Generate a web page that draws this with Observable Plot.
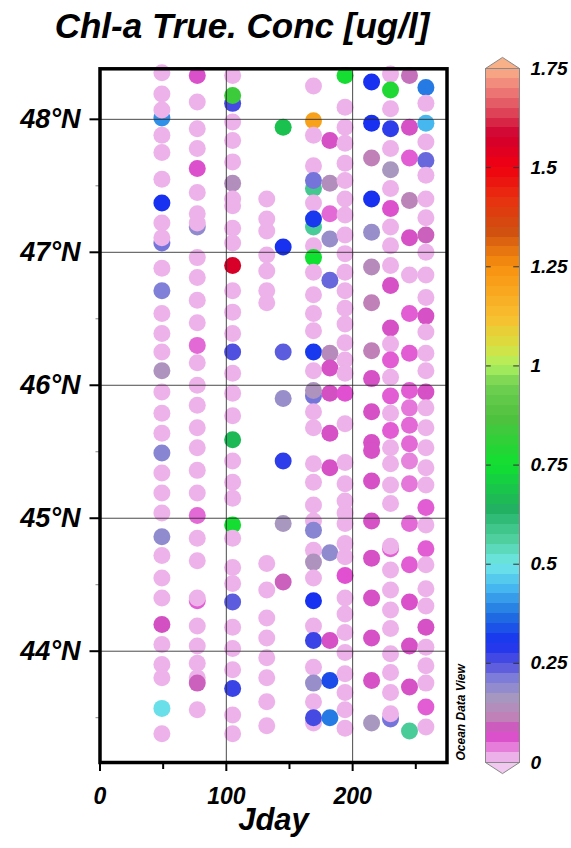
<!DOCTYPE html>
<html><head><meta charset="utf-8">
<script src="https://cdn.jsdelivr.net/npm/d3@7"></script>
<script src="https://cdn.jsdelivr.net/npm/@observablehq/plot@0.6"></script>
<style>
body{margin:0;background:#fff;}
#wrap{position:relative;width:571px;height:848px;overflow:hidden;font-family:"Liberation Sans",Arial,sans-serif;font-weight:bold;font-style:italic;color:#000;}
#title{position:absolute;left:0;top:8px;width:484px;text-align:center;font-size:35px;line-height:35px;white-space:nowrap;}
#main{position:absolute;left:0;top:50px;}
#bar{position:absolute;left:450px;top:50px;}
</style></head><body>
<div id="wrap"><div id="title">Chl-a True. Conc [ug/l]</div><div id="main"></div><div id="bar"></div></div>
<script>
// ---- data: one cruise per column (Jday), latitude (°N) and Chl-a (ug/l) of each station
const cruiseJday = [49, 77, 105, 132, 145, 169, 182, 194, 215, 230, 245, 258];

const lat049 = [48.35,48.19,48.01,48.07,47.88,47.75,47.55,47.37,47.22,47.07,47.11,46.88,46.71,46.54,46.39,46.25,46.11,45.95,45.79,45.64,45.49,45.34,45.19,45.04,44.86,44.72,44.55,44.40,44.20,44.05,43.90,43.80,43.57,43.38];
const chl049 = [.012,.012,.40,.012,.012,.012,.012,.30,.012,.22,.012,.012,.21,.012,.012,.012,.15,.012,.012,.012,.20,.012,.012,.012,.19,.012,.012,.012,.075,.012,.012,.012,.49,.012];

const lat077 = [48.33,48.13,47.93,47.78,47.63,47.45,47.29,47.19,47.22,46.96,46.81,46.64,46.47,46.30,46.17,46.00,45.85,45.68,45.53,45.36,45.19,45.02,44.85,44.68,44.38,44.40,44.19,44.04,43.91,43.80,43.76,43.56];
const chl077 = [.065,.012,.012,.012,.06,.012,.012,.19,.012,.012,.012,.012,.012,.045,.012,.012,.012,.012,.012,.012,.012,.045,.012,.012,.05,.012,.012,.012,.012,.012,.09,.012];

const lat105 = [48.33,48.12,48.18,47.98,47.84,47.68,47.52,47.40,47.35,47.18,47.07,46.90,46.71,46.55,46.39,46.25,46.09,45.94,45.77,45.59,45.43,45.27,45.15,44.95,44.85,44.63,44.51,44.37,44.18,44.02,43.86,43.72,43.52,43.38];
const chl105 = [.012,.26,.83,.012,.012,.012,.14,.012,.012,.012,.012,1.56,.012,.012,.012,.25,.012,.012,.012,.66,.012,.012,.012,.76,.012,.012,.012,.24,.012,.012,.012,.27,.012,.012];

const lat132 = [47.40,47.25,47.16,46.98,46.86,46.71,46.62,44.66,44.46,44.25,44.10,43.95,43.80,43.62,43.44];
const chl132 = [.012,.012,.012,.012,.012,.012,.012,.012,.012,.012,.012,.012,.012,.012,.012];

const lat145 = [47.94,47.04,46.25,45.90,45.43,44.96,44.52];
const chl145 = [.68,.30,.24,.18,.28,.16,.09];

const lat169 = [48.25,47.99,47.88,47.65,47.48,47.54,47.37,47.19,47.25,47.05,46.96,46.85,46.68,46.54,46.41,46.25,46.11,45.92,45.96,45.80,45.68,45.41,45.27,45.10,44.98,44.91,44.76,44.67,44.55,44.38,44.19,44.08,43.88,43.76,43.62,43.46,43.50];
const chl169 = [.012,1.2,.012,.012,.58,.22,.012,.57,.31,.012,.75,.012,.012,.012,.012,.31,.012,.22,.15,.012,.012,.012,.012,.012,.012,.20,.012,.15,.012,.30,.012,.27,.012,.18,.012,.012,.26];

const lat182 = [47.84,47.52,47.29,47.10,46.79,46.24,46.13,45.94,45.64,45.38,44.74,44.08,43.78,43.50];
const chl182 = [.07,.14,.045,.18,.23,.13,.07,.075,.07,.07,.19,.07,.33,.38];

const lat194 = [48.33,48.09,47.94,47.82,47.67,47.54,47.40,47.28,47.13,46.99,46.85,46.71,46.58,46.46,46.32,46.19,46.09,45.94,45.71,45.42,45.26,45.13,45.04,44.96,44.81,44.71,44.57,44.40,44.28,44.14,43.99,43.83,43.69,43.56,43.42];
const chl194 = [.76,.012,.012,.012,.012,.012,.012,.012,.012,.012,.012,.012,.012,.012,.012,.012,.012,.055,.012,.012,.012,.012,.012,.012,.012,.012,.055,.012,.012,.012,.012,.012,.012,.012,.012];

const lat215 = [48.28,47.97,47.71,47.40,47.15,46.89,46.62,46.26,46.05,45.80,45.57,45.51,45.28,44.98,44.70,44.40,44.10,43.78,43.46];
const chl215 = [.30,.30,.11,.30,.18,.13,.11,.11,.07,.07,.07,.07,.07,.07,.07,.07,.07,.07,.16];

const lat230 = [48.34,48.22,48.08,47.93,47.78,47.62,47.48,47.33,47.19,47.05,46.90,46.75,46.43,46.31,46.19,46.06,45.92,45.79,45.66,45.53,45.41,45.25,45.11,44.77,44.79,44.61,44.46,44.31,44.17,43.98,43.84,43.69,43.49,43.53];
const chl230 = [.012,.78,.012,.28,.012,.16,.012,.06,.012,.012,.012,.07,.07,.012,.05,.012,.05,.012,.05,.012,.012,.012,.012,.05,.012,.012,.012,.012,.012,.012,.012,.012,.22,.012];

const lat245 = [48.33,47.94,47.71,47.39,47.11,46.83,46.54,46.24,45.96,45.83,45.70,45.56,45.43,45.26,44.96,44.65,44.37,44.04,43.73,43.40];
const chl245 = [.10,.07,.05,.12,.07,.012,.05,.05,.05,.04,.045,.045,.035,.04,.045,.05,.065,.07,.07,.57];

const lat258 = [48.24,48.12,47.97,47.83,47.69,47.58,47.40,47.26,47.13,47.00,46.83,46.66,46.52,46.40,46.24,46.11,45.95,45.83,45.68,45.53,45.38,45.25,45.08,44.95,44.77,44.65,44.47,44.34,44.18,44.03,43.89,43.76,43.58,43.43];
const chl258 = [.38,.012,.44,.012,.23,.012,.012,.012,.09,.012,.012,.012,.07,.012,.012,.012,.07,.012,.012,.012,.012,.012,.05,.012,.05,.012,.012,.012,.07,.012,.012,.012,.05,.012];

// axis ticks
const latMajor = [44, 45, 46, 47, 48];
const latMinor = [43.5, 44.5, 45.5, 46.5, 47.5];
const jdayMajor = [0, 100, 200];
const jdayMinor = [50, 150, 250];
const barLabels = [0, 0.25, 0.5, 0.75, 1, 1.25, 1.5, 1.75];

// ODV-style colour palette stops
const colorStops = [0,0.03,0.055,0.08,0.11,0.16,0.21,0.25,0.3,0.37,0.43,0.5,0.56,0.64,0.75,0.87,0.95,1.0,1.05,1.12,1.25,1.34,1.42,1.5,1.58,1.65,1.7,1.75];
const colorHex = ["#f0c8f0","#e890e0","#e050d0","#d050c0","#c080b8","#a898c0","#8080d8","#5050e0","#1830f0","#2070e0","#40b0f0","#70e8e8","#50d0a0","#20b060","#10e030","#50c040","#70d050","#b0f060","#d8e040","#f8c030","#f89010","#d05010","#e83010","#f00010","#d00030","#e05060","#f08078","#f8b088"];

// ---- build table
const latCols = [lat049, lat077, lat105, lat132, lat145, lat169, lat182, lat194, lat215, lat230, lat245, lat258];
const chlCols = [chl049, chl077, chl105, chl132, chl145, chl169, chl182, chl194, chl215, chl230, chl245, chl258];
const rows = [];
cruiseJday.forEach((jd, i) => {
  const la = latCols[i], ch = chlCols[i];
  const n = Math.min(la.length, ch.length);
  for (let k = 0; k < n; k++) rows.push({jday: jd, lat: la[k], chl: ch[k]});
});

const colorScale = {type: "linear", domain: colorStops, range: colorHex, clamp: true};
const ff = '"Liberation Sans", Arial, sans-serif';
const baseStyle = {fontFamily: ff, fontStyle: "italic", fontWeight: "bold", background: "transparent", color: "#000"};

const main = Plot.plot({
  width: 450, height: 798,
  marginLeft: 99.5, marginRight: 3.5, marginTop: 18.3, marginBottom: 86,
  style: baseStyle,
  x: {domain: [0, 274.7]},
  y: {domain: [43.163, 48.38]},
  color: colorScale,
  marks: [
    Plot.dot(rows, {x: "jday", y: "lat", fill: "chl", r: 8.5}),
    Plot.gridY(latMajor, {stroke: "#2a2a2a", strokeOpacity: 0.85, strokeWidth: 1}),
    Plot.gridX([100, 200], {stroke: "#2a2a2a", strokeOpacity: 0.85, strokeWidth: 1}),
    Plot.axisY(latMinor, {tickSize: 4, tickFormat: () => "", stroke: "#888", label: null}),
    Plot.axisY(latMajor, {tickSize: 10, tickPadding: 9.5, tickFormat: d => `${d}°N`, fontSize: 27, strokeWidth: 2, label: null}),
    Plot.axisX(jdayMinor, {tickSize: 7, tickFormat: () => "", strokeWidth: 2, label: null}),
    Plot.axisX(jdayMajor, {tickSize: 9, tickPadding: 16, fontSize: 23, strokeWidth: 2, label: null}),
    Plot.text(["Jday"], {frameAnchor: "bottom", dy: 67, fontSize: 31}),
    Plot.frame({stroke: "#000", strokeWidth: 3.5})
  ]
});
document.getElementById("main").appendChild(main);

const bandStep = 0.025;
const bands = d3.range(0, 1.75 - 1e-9, bandStep);
const arrowH = 0.028;
const bar = Plot.plot({
  width: 121, height: 798,
  marginLeft: 35, marginRight: 52, marginTop: 18, marginBottom: 86,
  style: baseStyle,
  x: {domain: [0, 1], axis: null},
  y: {domain: [0, 1.75]},
  color: colorScale,
  marks: [
    Plot.rect(bands, {x1: 0, x2: 1, y1: d => d, y2: d => d + bandStep, fill: d => d + bandStep / 2, shapeRendering: "crispEdges"}),
    Plot.line([[0, 1.75], [0.5, 1.75 + arrowH], [1, 1.75]], {fill: colorHex[colorHex.length - 1], stroke: "#888", strokeWidth: 1}),
    Plot.line([[0, 0], [0.5, -arrowH], [1, 0]], {fill: colorHex[0], stroke: "#888", strokeWidth: 1}),
    Plot.ruleY(barLabels.slice(1, -1), {x1: 0, x2: 0.17, stroke: "#333", strokeWidth: 1}),
    Plot.ruleY(barLabels.slice(1, -1), {x1: 0.83, x2: 1, stroke: "#333", strokeWidth: 1}),
    Plot.frame({stroke: "#888", strokeWidth: 1}),
    Plot.axisY(barLabels, {anchor: "right", tickSize: 0, tickPadding: 11, tickFormat: d => String(d), fontSize: 19, label: null}),
    Plot.text(["Ocean Data View"], {frameAnchor: "bottom-left", rotate: -90, textAnchor: "start", dx: -21, dy: -2, fontSize: 12})
  ]
});
document.getElementById("bar").appendChild(bar);
</script>
</body></html>
